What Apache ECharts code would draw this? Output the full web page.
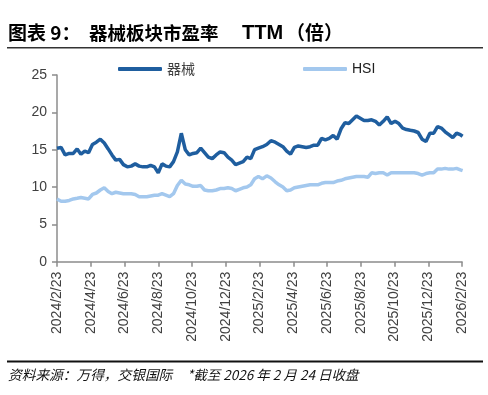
<!DOCTYPE html>
<html>
<head>
<meta charset="utf-8">
<script src="https://cdn.jsdelivr.net/npm/echarts@6/dist/echarts.min.js"></script>
<style>html,body{margin:0;padding:0;background:#fff}#c{width:488px;height:395px}</style>
</head>
<body>
<div id="c"></div>
<script>
// ---- data ----
const startDate = '2024-02-23';      // weekly observations from here
const lastDate = '2026-02-24';       // final observation (close of 2026/2/24)
const tickLabels = ['2024/2/23','2024/4/23','2024/6/23','2024/8/23','2024/10/23','2024/12/23',
  '2025/2/23','2025/4/23','2025/6/23','2025/8/23','2025/10/23','2025/12/23','2026/2/23'];
const seriesNames = ['器械', 'HSI'];
const qixie = [15.2,15.3,14.3,14.5,14.5,15.1,14.4,14.8,14.6,15.7,16.0,16.4,15.9,15.1,14.3,13.6,13.7,13.0,12.7,12.8,
  13.1,12.8,12.7,12.7,12.9,12.7,11.9,13.1,12.8,12.7,13.4,14.7,17.2,15.0,14.3,14.5,14.6,15.2,14.6,14.0,
  13.8,14.3,14.7,14.6,14.0,13.6,13.0,13.2,13.4,14.0,13.8,15.0,15.2,15.4,15.7,16.2,16.0,15.7,15.4,14.8,
  14.4,15.3,15.5,15.4,15.3,15.4,15.6,15.6,16.5,16.3,16.5,16.9,16.4,17.8,18.6,18.5,19.0,19.5,19.2,18.9,
  18.9,19.0,18.8,18.3,18.8,19.4,18.5,18.8,18.5,17.9,17.7,17.6,17.5,17.3,16.4,16.1,17.2,17.2,18.1,17.9,
  17.4,17.0,16.6,17.2,17.0,16.8];
const hsi = [8.4,8.1,8.1,8.2,8.4,8.5,8.6,8.5,8.4,9.0,9.2,9.6,9.9,9.4,9.1,9.3,9.2,9.1,9.1,9.1,
  9.0,8.7,8.7,8.7,8.8,8.9,8.9,9.1,8.9,8.7,9.1,10.2,10.9,10.4,10.3,10.1,10.1,10.2,9.6,9.5,
  9.5,9.6,9.8,9.8,9.9,9.8,9.5,9.7,9.9,10.0,10.3,11.1,11.4,11.1,11.5,11.2,10.7,10.3,10.0,9.5,
  9.6,9.9,10.0,10.1,10.2,10.3,10.3,10.3,10.5,10.6,10.6,10.6,10.8,10.9,11.1,11.2,11.3,11.4,11.4,11.4,
  11.3,11.9,11.8,11.9,11.9,11.6,11.9,11.9,11.9,11.9,11.9,11.9,11.9,11.8,11.6,11.8,11.9,11.9,12.4,12.4,
  12.5,12.4,12.4,12.5,12.3,12.2];

// ---- build dates ----
function parse(s){const p=s.split('-').map(Number);return new Date(Date.UTC(p[0],p[1]-1,p[2]));}
const dates = [];
{
  const s = parse(startDate), e = parse(lastDate);
  for (let k = 0; k < qixie.length - 1; k++) dates.push(new Date(s.getTime() + k*7*86400000));
  dates.push(e);
}
// months elapsed since start (anchored on the 23rd of each month)
function monthsSince(d){
  const s = parse(startDate);
  let y = d.getUTCFullYear(), m = d.getUTCMonth();
  if (d.getUTCDate() < 23) { m -= 1; if (m < 0) { m += 12; y -= 1; } }
  const a = new Date(Date.UTC(y, m, 23));
  const b = new Date(Date.UTC(y, m + 1, 23));
  const whole = (y - s.getUTCFullYear())*12 + (m - s.getUTCMonth());
  return whole + (d - a)/(b - a);
}
const xs = dates.map(monthsSince);
const pts = arr => arr.map((v,i)=>[xs[i], v]);

const chart = echarts.init(document.getElementById('c'), null, {renderer:'canvas'});
const axisFont = {fontFamily:'Liberation Sans, Arial, sans-serif', fontSize:14, color:'#404040'};
const cjk = '"Noto Sans CJK SC"';
chart.setOption({
  animation:false,
  backgroundColor:'#fff',
  legend:[
    {data:[seriesNames[0]], left:113, top:57, itemWidth:44, itemHeight:4, itemGap:0,
     icon:'roundRect', textStyle:{fontFamily:'Noto Sans CJK SC', fontSize:14, color:'#404040'}},
    {data:[seriesNames[1]], left:298, top:57, itemWidth:44, itemHeight:4, itemGap:0,
     icon:'roundRect', textStyle:{fontFamily:'Liberation Sans Narrow, Liberation Sans, sans-serif', fontSize:14, color:'#202020'}}
  ],
  grid:{left:57, right:26, top:75, bottom:133.3, containLabel:false},
  xAxis:{
    type:'value', min:0, max:24, interval:2,
    axisLine:{show:true, lineStyle:{color:'#8c8c8c', width:1.5}},
    axisTick:{show:true, length:5, lineStyle:{color:'#8c8c8c', width:1.5}},
    splitLine:{show:false},
    axisLabel:Object.assign({rotate:90, margin:10, formatter:v=>tickLabels[Math.round(v/2)]||''}, axisFont)
  },
  yAxis:{
    type:'value', min:0, max:25, interval:5,
    axisLine:{show:true, lineStyle:{color:'#8c8c8c', width:1.5}},
    axisTick:{show:true, length:5, lineStyle:{color:'#8c8c8c', width:1.5}},
    splitLine:{show:false},
    axisLabel:Object.assign({margin:10}, axisFont)
  },
  series:[
    {name:seriesNames[1], type:'line', data:pts(hsi), showSymbol:false, symbol:'none',
     lineStyle:{color:'#a3c8ee', width:3.5}, itemStyle:{color:'#a3c8ee'}, z:2},
    {name:seriesNames[0], type:'line', data:pts(qixie), showSymbol:false, symbol:'none',
     lineStyle:{color:'#1f5e9f', width:3.5}, itemStyle:{color:'#1f5e9f'}, z:3}
  ],
  graphic:[
    {type:'text', x:8, y:33, style:{text:'图表 9：', font:'bold 19px '+cjk, fill:'#000', textVerticalAlign:'middle'}},
    {type:'text', x:89, y:33, style:{text:'器械板块市盈率', font:'bold 18.5px '+cjk, fill:'#000', textVerticalAlign:'middle'}},
    {type:'text', x:242, y:33, style:{text:'TTM', font:'bold 20px "Liberation Sans", Arial, sans-serif', fill:'#000', textVerticalAlign:'middle'}},
    {type:'text', x:286, y:33, style:{text:'（倍）', font:'bold 19px '+cjk, fill:'#000', textVerticalAlign:'middle'}},
    {type:'rect', shape:{x:7, y:47, width:476, height:1.5}, style:{fill:'#333'}, silent:true},
    {type:'rect', shape:{x:7, y:360.5, width:476, height:2}, style:{fill:'#111'}, silent:true},
    {type:'text', x:8, y:375, style:{text:'资料来源：万得，交银国际', font:'italic 13.7px '+cjk, fill:'#111', textVerticalAlign:'middle'}},
    {type:'text', x:187, y:375, style:{text:'*截至 2026 年 2 月 24 日收盘', font:'italic 13.5px '+cjk, fill:'#111', textVerticalAlign:'middle'}}
  ]
});
</script>
</body>
</html>
